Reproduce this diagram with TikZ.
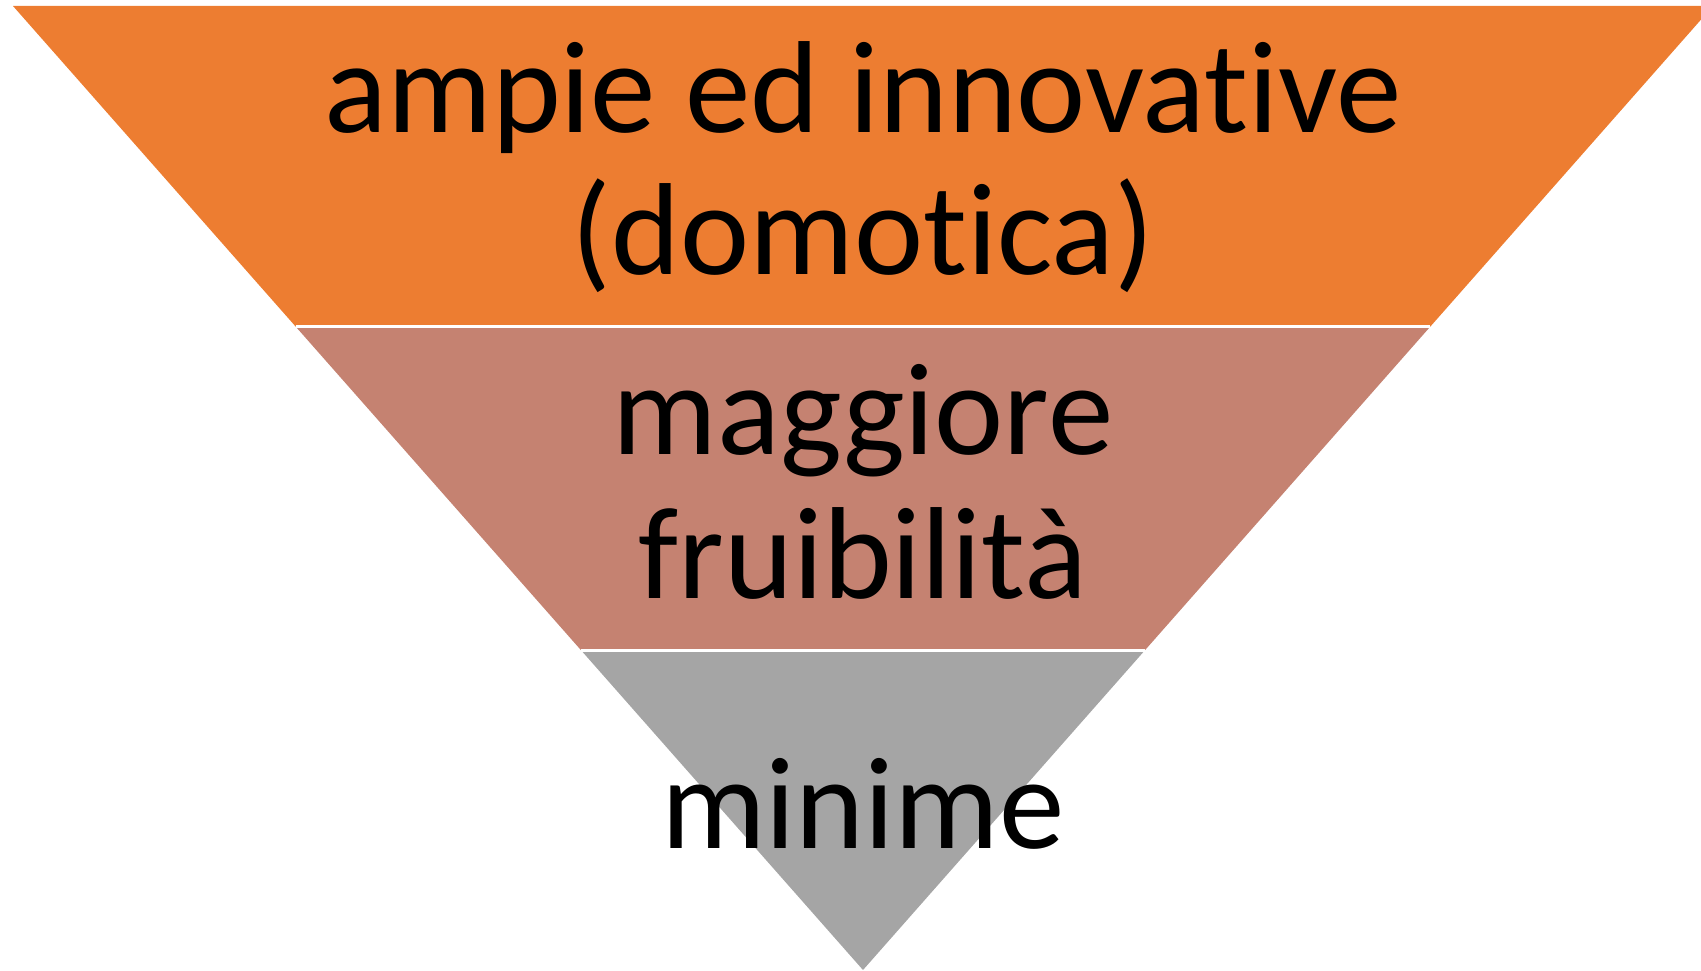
\documentclass[tikz,border=0pt]{standalone}
\usepackage{fontspec}
\setmainfont{Carlito}[RawFeature={-liga;-clig;-dlig}]
\usetikzlibrary{calc}
\definecolor{bandorange}{HTML}{ED7D31}
\definecolor{bandbrown}{HTML}{C58271}
\definecolor{bandgrey}{HTML}{A5A5A5}
\tikzset{
  bandlabel/.style={anchor=base, inner sep=0pt, font=\fontsize{131}{141}\selectfont, text=black},
  gapline/.style={draw=white, line width=3pt}
}
\begin{document}
\begin{tikzpicture}[x=1pt,y=-1pt]
\useasboundingbox (0,0) rectangle (1701,971);
\clip (0,0) rectangle (1701,971);
\coordinate (TL) at (13,6);
\coordinate (TR) at (1713,6);
\coordinate (A) at (863,970);
\coordinate (L1) at ($(TL)!0.3325!(A)$);
\coordinate (R1) at ($(TR)!0.3325!(A)$);
\coordinate (L2) at ($(TL)!0.6686!(A)$);
\coordinate (R2) at ($(TR)!0.6686!(A)$);
\fill[bandorange] (TL) -- (TR) -- (R1) -- (L1) -- cycle;
\fill[bandbrown] (L1) -- (R1) -- (R2) -- (L2) -- cycle;
\fill[bandgrey] (L2) -- (R2) -- (A) -- cycle;
\draw[gapline] (L1) -- (R1);
\draw[gapline] (L2) -- (R2);
\node[bandlabel] (t1) at (863,133) {ampie ed innovative};
\node[bandlabel] (t2) at (863,274) {(domotica)};
\node[bandlabel] (t3) at (863,454) {maggiore};
\node[bandlabel] (t4) at (863,598) {fruibilità};
\node[bandlabel] (t5) at (863,848) {minime};
\end{tikzpicture}
\end{document}
